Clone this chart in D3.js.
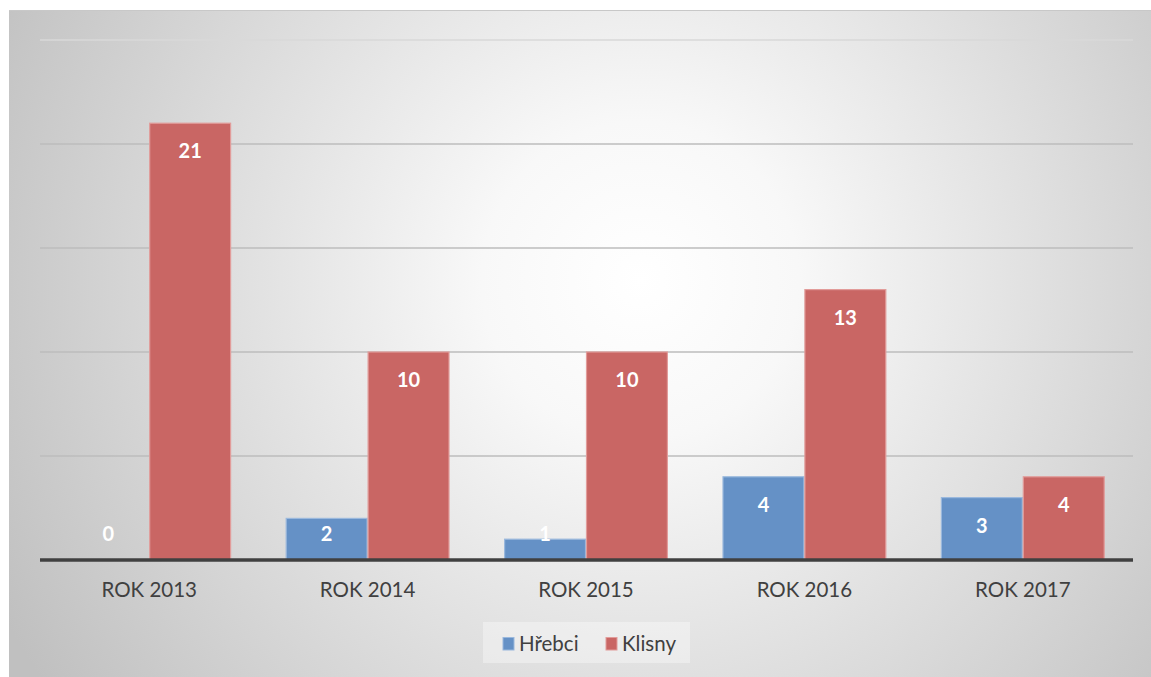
<!DOCTYPE html>
<html><head><meta charset="utf-8">
<script src="https://cdn.jsdelivr.net/npm/d3@7"></script>
<style>html,body{margin:0;padding:0;background:#fff;}svg{display:block;}</style>
</head><body>
<svg id="c" width="1151" height="677"></svg>
<script>
const categories = ["ROK 2013","ROK 2014","ROK 2015","ROK 2016","ROK 2017"];
const seriesNames = ["Hřebci","Klisny"];
const hrebci = [0, 2, 1, 4, 3];
const klisny = [21, 10, 10, 13, 4];
const yTicks = [0, 5, 10, 15, 20, 25];
const colors = {"Hřebci": "#6591c6", "Klisny": "#c96664"};
const strokes = {"Hřebci": "#9ab8dd", "Klisny": "#e29c9a"};
const FONT = "Lato, 'Open Sans', sans-serif";

const svg = d3.select("#c");
const defs = svg.append("defs");
const rg = defs.append("radialGradient").attr("id","bg")
  .attr("gradientUnits","userSpaceOnUse").attr("cx",640).attr("cy",280).attr("r",720);
rg.append("stop").attr("offset","0").attr("stop-color","#ffffff");
rg.append("stop").attr("offset","0.22").attr("stop-color","#f8f8f8");
rg.append("stop").attr("offset","1").attr("stop-color","#c0c0c0");

svg.append("rect").attr("x",9).attr("y",10).attr("width",1142).attr("height",667).attr("fill","url(#bg)");
svg.append("line").attr("x1",9).attr("x2",1151).attr("y1",10.5).attr("y2",10.5).attr("stroke","#c8c8c8");

const x0 = d3.scaleBand().domain(categories).range([40, 1132]).paddingInner(0.25).paddingOuter(0.125);
const x1 = d3.scaleBand().domain(seriesNames).range([0, x0.bandwidth()]).padding(0);
const y = d3.scaleLinear().domain([0, 25]).range([560, 40]);

// gridlines
svg.append("g").selectAll("line").data(yTicks.filter(d=>d>0)).join("line")
  .attr("x1",40).attr("x2",1133).attr("y1",d=>y(d)).attr("y2",d=>y(d))
  .attr("stroke",d=> d===25 ? "#d9d9d9" : "#bdbdbd").attr("stroke-width",1.5);

const data = categories.map((c,i)=>({cat:c, vals:[{s:"Hřebci",v:hrebci[i]},{s:"Klisny",v:klisny[i]}]}));

const g = svg.append("g").selectAll("g").data(data).join("g")
  .attr("transform",d=>`translate(${x0(d.cat)},0)`);
g.selectAll("rect").data(d=>d.vals).join("rect")
  .attr("x",d=>x1(d.s)+0.5).attr("width",x1.bandwidth()-1)
  .attr("y",d=>y(d.v)).attr("height",d=>Math.max(0,y(0)-y(d.v)))
  .attr("fill",d=>colors[d.s]).attr("stroke",d=>d.v>0?strokes[d.s]:"none").attr("stroke-width",1.2);

g.selectAll("text").data(d=>d.vals).join("text")
  .attr("x",d=>x1(d.s)+x1.bandwidth()/2)
  .attr("y",d=>Math.min(y(d.v)+28, 534))
  .attr("dy","0.35em").attr("text-anchor","middle")
  .attr("font-family",FONT).attr("font-weight","bold").attr("font-size",20)
  .attr("fill","#ffffff").text(d=>d.v);

// baseline axis
const xAxis = d3.axisBottom(x0).tickSize(0).tickPadding(22);
const ax = svg.append("g").attr("transform","translate(0,560)").call(xAxis);
ax.select(".domain").remove();
ax.selectAll("text").attr("font-family",FONT).attr("font-size",20.5).attr("fill","#404040");
svg.append("line").attr("x1",40).attr("x2",1133).attr("y1",560).attr("y2",560).attr("stroke","#404040").attr("stroke-width",3.5);

// legend
const lg = svg.append("g");
lg.append("rect").attr("x",483).attr("y",622).attr("width",207).attr("height",41).attr("fill","#ffffff").attr("opacity",0.35);
const items = [{s:"Hřebci",x:503},{s:"Klisny",x:606}];
items.forEach(it=>{
  lg.append("rect").attr("x",it.x).attr("y",637.5).attr("width",11).attr("height",12.5).attr("fill",colors[it.s]).attr("stroke",strokes[it.s]);
  lg.append("text").attr("x",it.x+16).attr("y",644).attr("dy","0.35em")
    .attr("font-family",FONT).attr("font-size",20.5).attr("fill","#404040").text(it.s);
});
</script>
</body></html>
